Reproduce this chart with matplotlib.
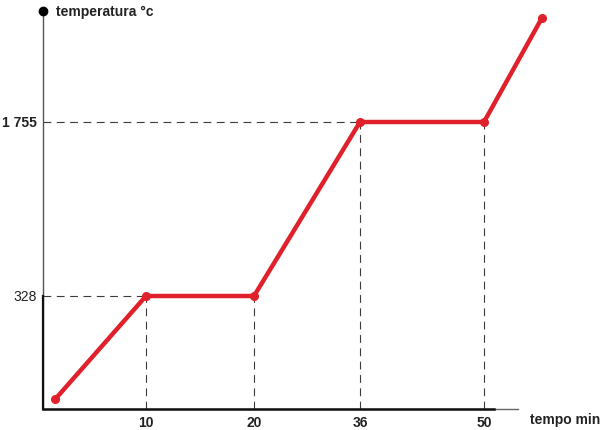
import numpy as np
import matplotlib
matplotlib.use("Agg")
import matplotlib.pyplot as plt
import matplotlib.transforms as mtransforms

# data (schematic heating curve)
times = [1.2, 10, 20, 36, 50, 56.5]
temps = [29, 328, 328, 1755, 1755, 2440]
x_ticks = [10, 20, 36, 50]
x_tick_labels = ["10", "20", "36", "50"]
y_ticks = [328, 1755]
y_tick_labels = ["328", "1 755"]
y_tick_weights = ["normal", "bold"]

# schematic (non-linear) axis knots
t_knots = [0, 10, 20, 36, 50, 60]
t_pos = [0, 103, 211, 317, 441, 530]
c_knots = [0, 328, 1755, 2500]
c_pos = [0, 113, 287, 400]

plt.rcParams['font.family'] = ['Liberation Sans', 'DejaVu Sans']

fig = plt.figure(figsize=(6.0, 4.31), dpi=100)
W, H = 600, 431
ax = fig.add_axes([43 / W, 21 / H, 475 / W, 398 / H])

ax.set_xscale('function', functions=(lambda v: np.interp(v, t_knots, t_pos),
                                     lambda v: np.interp(v, t_pos, t_knots)))
ax.set_yscale('function', functions=(lambda v: np.interp(v, c_knots, c_pos),
                                     lambda v: np.interp(v, c_pos, c_knots)))
x_max = np.interp(475, t_pos, t_knots)
y_max = np.interp(398, c_pos, c_knots)
ax.set_xlim(0, x_max)
ax.set_ylim(0, y_max)

for s in ax.spines.values():
    s.set_visible(False)
ax.set_xticks([])
ax.set_yticks([])

# axes lines
ax.plot([0, 0], [0, y_max], color='#555555', lw=1.0, clip_on=False, zorder=2)
ax.plot([0, 0], [0, 328], color='#111111', lw=1.6, clip_on=False, zorder=2)
x_black_end = np.interp(451, t_pos, t_knots)
ax.plot([0, x_max], [0, 0], color='#666666', lw=1.0, clip_on=False, zorder=2)
ax.plot([0, x_black_end], [0, 0], color='#111111', lw=1.8, clip_on=False, zorder=2)
ax.plot([0], [y_max], marker='o', ms=6, color='black', clip_on=False, zorder=3)

# guide lines
gkw = dict(color='#3a3a3a', lw=0.8, dashes=(7, 5), zorder=1)
ax.plot([0, times[1]], [temps[1], temps[1]], **gkw)
ax.plot([times[1], times[1]], [0, temps[1]], **gkw)
ax.plot([times[2], times[2]], [0, temps[2]], **gkw)
ax.plot([0, times[3]], [temps[3], temps[3]], **gkw)
ax.plot([times[3], times[3]], [0, temps[3]], **gkw)
ax.plot([times[4], times[4]], [0, temps[4]], **gkw)

# curve
ax.plot(times, temps, color='#e0202a', lw=3.2, solid_capstyle='round',
        solid_joinstyle='round', marker='o', ms=5.5, zorder=4, clip_on=False)

# tick labels
xoff = ax.transData + mtransforms.ScaledTranslation(0, -4 / 72, fig.dpi_scale_trans)
for xt, lab in zip(x_ticks, x_tick_labels):
    ax.text(xt, 0, lab, ha='center', va='top', fontsize=10, fontweight='bold',
            color='#222222', transform=xoff, clip_on=False)
yoff = ax.transData + mtransforms.ScaledTranslation(-4.5 / 72, 0, fig.dpi_scale_trans)
for yt, lab, wt in zip(y_ticks, y_tick_labels, y_tick_weights):
    ax.text(0, yt, lab, ha='right', va='center', fontsize=10, fontweight=wt,
            color='#222222', transform=yoff, clip_on=False)

fig.text(56 / W, 1 - 12 / H, "temperatura °c", ha='left', va='center',
         fontsize=10, fontweight='bold', color='#222222')
fig.text(530 / W, 1 - 420 / H, "tempo min", ha='left', va='center',
         fontsize=10, fontweight='bold', color='#222222')

fig.savefig("out.png", dpi=100)
